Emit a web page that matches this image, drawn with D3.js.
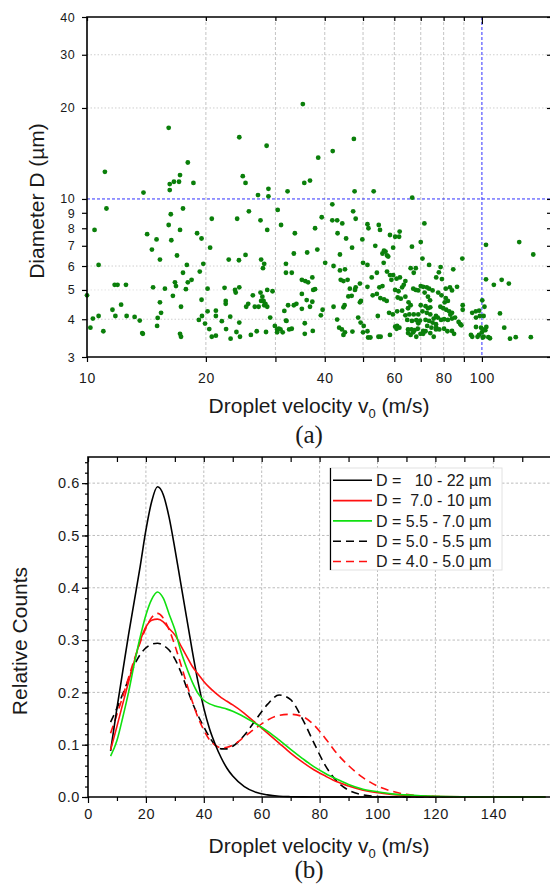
<!DOCTYPE html>
<html>
<head>
<meta charset="utf-8">
<script src="https://cdn.jsdelivr.net/npm/d3@7"></script>
<style>
  body { margin: 0; background: #fff; }
  svg { display: block; }
  text { font-family: "Liberation Sans", Arial, sans-serif; fill: #1a1a1a; }
</style>
</head>
<body>
<svg id="chart" width="550" height="886"></svg>
<script>

// === Panel (a): droplets [velocity m/s, diameter µm] ===
const droplets = [
  [11.1,12.3],[11.2,9.3],[13.9,10.5],[16.1,17.2],[16.2,11.2],[16.2,10.7],[16.6,11.4],[17.1,11.4],[17.2,12.0],[18.0,13.2],
  [18.6,11.3],[16.3,8.9],[17.5,9.3],[20.7,8.6],[24.3,16.0],[24.8,11.9],[25.2,11.3],[24.0,8.6],[25.7,9.1],[27.5,8.5],
  [27.1,10.3],[28.8,10.2],[28.8,10.8],[28.5,15.0],[30.4,9.2],[35.2,20.6],[38.5,13.7],[41.9,14.4],[47.4,15.8],[35.5,11.3],
  [36.7,11.5],[32.2,10.6],[47.6,10.6],[53.2,10.6],[66.6,10.1],[41.8,9.6],[47.2,9.1],[39.3,8.7],[41.8,8.5],[43.0,8.5],[47.9,8.6],
  [10.45,7.9],[10.7,6.05],[10.0,4.8],[10.35,4.02],[10.2,3.75],[10.7,4.1],[11.0,3.65],[11.6,4.3],[11.8,4.1],[11.75,5.2],
  [11.95,5.2],[12.55,5.2],[12.2,4.47],[12.6,4.1],[13.2,4.07],[13.6,3.96],[13.8,3.6],[13.85,3.58],
  [14.2,7.65],[15.0,7.35],[14.6,6.8],[15.3,6.3],[14.7,5.1],[15.75,5.05],[15.3,4.55],[15.4,4.2],[15.1,4.04],[15.05,3.8],
  [16.1,8.2],[17.2,7.9],[16.35,7.3],[16.9,6.5],[17.9,6.05],[17.5,5.7],[16.7,5.3],[16.8,5.15],[18.0,5.3],[18.4,5.4],
  [17.8,5.03],[16.5,4.78],[17.3,4.4],[17.2,3.58],[17.3,3.5],
  [19.0,7.7],[19.5,7.4],[20.5,6.9],[19.7,6.1],[19.3,5.75],[20.2,5.05],[19.5,4.64],[19.55,4.1],[19.2,3.98],[19.9,3.87],
  [20.2,4.25],[20.4,3.71],[20.7,3.5],[21.2,3.53],[21.2,4.27],[21.2,4.1],[21.95,3.94],[22.3,5.08],[22.45,4.6],[22.45,4.5],
  [22.5,3.71],[23.05,4.08],[23.1,3.45],[22.85,6.3],[24.25,6.27],[23.7,5.0],[23.8,4.9],[24.3,5.1],[24.3,3.9],[23.9,3.63],
  [24.4,3.5],[25.2,6.53],[28.6,7.9],[27.6,6.3],[28.1,6.1],[27.9,5.9],[26.3,4.8],[25.3,4.4],[25.6,4.5],[26.6,4.4],
  [27.2,4.4],[27.5,4.9],[27.8,4.75],[27.6,4.6],[28.0,4.6],[28.1,4.45],[28.3,4.5],[28.6,4.4],[28.6,5.0],[29.5,4.95],
  [29.1,4.05],[26.0,3.55],[26.9,3.65],[28.4,3.63],[29.9,3.8],[30.3,3.7],[30.6,3.72],[30.9,3.7],[30.3,3.62],[31.3,3.62],
  [31.0,8.2],[31.9,6.1],[31.9,5.7],[31.6,4.26],[31.9,3.96],
  [33.6,7.7],[37.8,8.0],[44.3,8.3],[51.3,8.25],[51.6,8.0],[54.8,8.2],[55.2,7.9],[58.5,7.6],[60.3,7.5],[61.7,7.5],
  [61.9,7.8],[71.5,8.3],[43.1,7.7],[45.3,7.4],[49.8,7.35],[53.7,7.0],[59.6,6.9],[66.5,6.95],[70.0,7.2],
  [33.4,6.6],[36.1,6.65],[38.3,6.8],[43.7,6.55],[46.9,6.9],[56.0,6.6],[57.0,6.7],[57.5,6.5],[56.5,6.75],[57.9,6.45],
  [70.7,6.35],[40.1,6.15],[42.1,6.0],[50.0,6.15],[51.3,6.05],[56.4,6.15],
  [33.0,5.7],[35.0,5.4],[35.7,5.35],[36.3,5.3],[37.2,5.5],[37.8,5.03],[37.4,5.0],[35.0,4.85],[36.0,4.63],[37.2,4.57],
  [36.7,4.4],[33.9,4.5],[33.4,4.45],[32.3,4.45],[35.0,4.33],[32.0,3.95],[32.5,3.7],[33.0,3.72],[35.6,3.88],[35.6,3.58],
  [37.3,3.66],[39.5,4.3],[39.1,4.12],[43.0,3.99],[43.5,3.75],[44.2,3.7],[45.0,3.62],[44.6,3.55],[47.0,3.64],[42.1,4.4],
  [44.6,4.38],[44.9,4.45],[43.7,5.8],[45.0,5.85],[45.7,5.4],[44.6,5.35],[43.9,5.4],[46.3,5.05],[46.8,4.78],[45.9,4.76],
  [47.7,5.0],[47.9,5.1],[49.1,5.25],[49.4,4.6],[49.1,4.55],[48.6,4.05],[49.3,3.9],[50.2,3.8],[51.3,3.65],[50.0,3.62],
  [51.5,3.48],[52.2,3.48],[51.3,5.12],[52.6,5.5],[54.2,5.7],[55.0,5.1],[56.0,5.15],[52.9,4.8],[54.2,4.85],[55.3,4.7],
  [56.5,4.65],[57.4,4.6],[54.5,4.1],[54.7,3.5],[55.4,3.5],[58.5,3.55],[58.2,4.2],[59.5,4.15],[61.0,4.25],[62.8,4.27],
  [64.0,4.12],[60.3,3.78],[61.0,3.8],[61.8,3.75],[60.8,3.72],[59.6,5.6],[60.8,5.45],[62.0,5.5],[64.0,5.35],[57.5,5.75],
  [58.5,5.6],[59.0,5.4],[60.3,5.0],[61.5,4.95],[62.8,5.1],[63.4,5.2],[61.2,4.72],[62.3,4.68],[64.0,4.75],
  [66.0,5.9],[67.2,5.7],[68.0,5.9],[67.0,5.05],[68.0,5.0],[69.0,4.98],[65.2,4.55],[66.0,4.45],[65.0,4.35],[65.5,4.15],
  [67.2,4.15],[69.0,4.15],[64.7,3.98],[66.5,3.95],[68.2,3.97],[69.7,3.96],[69.0,3.88],[65.0,3.7],[66.3,3.7],[67.5,3.68],
  [68.8,3.72],[67.0,3.62],[65.0,3.6],[66.0,3.55],[68.2,3.5],[69.9,3.58],[71.0,3.66],
  [70.0,5.15],[71.0,5.12],[72.5,5.1],[73.5,5.05],[75.0,4.98],[71.6,4.9],[73.0,4.75],[73.9,4.62],[70.0,4.45],[72.0,4.42],
  [74.0,4.38],[73.0,4.35],[70.7,4.25],[72.5,4.2],[74.0,4.15],[75.5,4.02],[76.5,4.1],[72.0,3.98],[73.5,3.95],[75.0,3.9],
  [76.5,3.85],[72.7,3.8],[74.5,3.75],[76.5,3.7],[72.0,3.65],[74.0,3.6],[71.0,3.58],[75.5,3.5],
  [73.5,6.05],[78.6,5.95],[77.8,5.72],[76.6,5.5],[79.2,5.43],[84.6,5.85],[77.5,4.9],[79.0,4.8],[81.0,4.7],[82.0,4.6],
  [80.5,4.55],[78.5,4.4],[79.8,4.35],[81.2,4.3],[82.6,4.25],[84.0,4.2],[83.2,4.14],[77.3,4.05],[78.8,3.98],[80.2,4.0],
  [82.0,3.98],[84.0,4.02],[85.5,4.05],[87.3,3.92],[88.2,3.85],[76.6,3.76],[78.0,3.7],[80.2,3.72],[81.8,3.65],[84.0,3.66],
  [85.0,3.58],[88.7,3.82],[81.0,5.05],[83.0,5.1],[84.0,4.98],[86.5,5.12],[89.2,6.35],[89.4,4.45],[89.4,4.3],[94.5,4.2],
  [96.5,4.25],[98.4,4.27],[96.6,4.05],[98.8,4.1],[93.8,3.55],[94.5,3.5],[97.5,3.5],[98.3,3.55],[100.0,3.62],[101.0,3.5],
  [96.6,3.77],
  [102.4,7.05],[124.3,7.2],[134.9,6.55],[102.4,5.42],[107.2,5.2],[112.2,5.4],[117.0,5.25],[111.1,4.18],[113.9,3.75],
  [117.8,3.45],[121.8,3.49],[133.0,3.49],[100.2,4.62],[101.5,4.4],[101.0,4.1],[99.5,3.75],[100.5,3.7],[102.0,3.68],
  [102.6,3.77],[100.5,3.48],[103.8,3.49],[104.8,3.46]
];

const velTicksA = [10, 20, 30, 40, 50, 60, 70, 80, 90, 100];
const velLabelsA = [10, 20, 40, 60, 80, 100];
const diaTicksA = [3, 4, 5, 6, 7, 8, 9, 10, 20, 30, 40];

// === Panel (b): relative counts on a common velocity grid ===
const vGrid = [7.8,10,12,14,16,18,20,22,24,26,28,30,32,34,36,38,40,42,44,46,48,50,54,58,62,66,70,74,78,82,86,90,95,100,105,110,115,120,130,140,150,158];

const countsD10to22 = [0.088,0.17,0.24,0.31,0.375,0.44,0.51,0.565,0.593,0.578,0.535,0.475,0.41,0.345,0.28,0.22,0.17,
  0.13,0.10,0.075,0.055,0.04,0.02,0.009,0.004,0.0015,0.0006,0.0002,0,0,0,0,0,0,0,0,0,0,0,0,0,0];
const countsD7to10 = [0.09,0.135,0.178,0.22,0.26,0.298,0.325,0.338,0.34,0.335,0.322,0.31,0.29,0.27,0.25,0.235,0.221,
  0.209,0.199,0.19,0.183,0.176,0.16,0.141,0.122,0.103,0.084,0.067,0.052,0.04,0.029,0.021,0.013,0.008,0.005,0.003,0.0015,0.001,0.0003,0,0,0];
const countsD55to7 = [0.078,0.108,0.152,0.2,0.255,0.305,0.348,0.378,0.392,0.38,0.35,0.32,0.28,0.248,0.22,0.198,0.185,
  0.178,0.174,0.171,0.168,0.164,0.153,0.14,0.126,0.109,0.091,0.074,0.058,0.045,0.034,0.024,0.015,0.01,0.006,0.004,0.0025,0.0015,0.0005,0,0,0];
const countsD5to55 = [0.143,0.17,0.197,0.225,0.252,0.272,0.285,0.292,0.294,0.29,0.281,0.264,0.24,0.21,0.181,0.156,0.134,
  0.114,0.099,0.092,0.092,0.097,0.118,0.148,0.177,0.195,0.186,0.15,0.104,0.06,0.03,0.013,0.004,0.001,0,0,0,0,0,0,0,0];
const countsD4to5 = [0.122,0.158,0.192,0.228,0.263,0.295,0.323,0.343,0.351,0.342,0.32,0.29,0.255,0.218,0.183,0.152,0.128,
  0.109,0.099,0.094,0.095,0.099,0.115,0.132,0.147,0.156,0.158,0.154,0.138,0.112,0.083,0.06,0.037,0.021,0.011,0.005,0.002,0.001,0,0,0,0];

const legendLabels = ["D =   10 - 22 µm", "D =  7.0 - 10 µm", "D = 5.5 - 7.0 µm", "D = 5.0 - 5.5 µm", "D = 4.0 - 5.0 µm"];

const series = [
  { label: legendLabels[0], values: countsD10to22, color: "#000000", dash: null },
  { label: legendLabels[1], values: countsD7to10,  color: "#ff1010", dash: null },
  { label: legendLabels[2], values: countsD55to7,  color: "#10e010", dash: null },
  { label: legendLabels[3], values: countsD5to55,  color: "#000000", dash: "8,5" },
  { label: legendLabels[4], values: countsD4to5,   color: "#ff1010", dash: "8,5" }
];

const svg = d3.select("#chart");

// helper: style tick texts
function styleTicks(g, size, spacing = 0.6) {
  g.select(".domain").remove();
  g.selectAll("line").attr("stroke", "#000").attr("stroke-width", 1.2);
  g.selectAll("text").attr("fill", "#1a1a1a").style("font-size", size + "px")
    .style("font-family", '"Liberation Sans", Arial, sans-serif').style("letter-spacing", spacing + "px");
}

function xTitle(y) {
  const t = svg.append("text").attr("x", 319).attr("y", y).attr("text-anchor", "middle").style("font-size", "21px");
  t.append("tspan").text("Droplet velocity v");
  t.append("tspan").attr("dy", 5).style("font-size", "13px").text("0");
  t.append("tspan").attr("dy", -5).text(" (m/s)");
}

// ================= PANEL (a) =================
const A = { left: 87, right: 551, top: 17, bottom: 357 };
const xA = d3.scaleLog().domain([10, 149.6]).range([A.left, A.right]);
const yA = d3.scaleLog().domain([3, 40]).range([A.bottom, A.top]);

const gridA = svg.append("g");
gridA.selectAll("line.v").data([20, 30, 40, 50, 60, 70, 80, 90]).enter().append("line")
  .attr("x1", d => xA(d)).attr("x2", d => xA(d)).attr("y1", A.top).attr("y2", A.bottom)
  .attr("stroke", "#c4c4c4").attr("stroke-dasharray", "3,2");
gridA.selectAll("line.h").data([4, 5, 6, 20, 30]).enter().append("line")
  .attr("x1", A.left).attr("x2", A.right).attr("y1", d => yA(d)).attr("y2", d => yA(d))
  .attr("stroke", d => d === 5 ? "#e4e4e4" : "#cfcfcf").attr("stroke-dasharray", "1.5,2");

// blue reference lines
svg.append("line").attr("x1", A.left).attr("x2", A.right).attr("y1", yA(10)).attr("y2", yA(10))
  .attr("stroke", "#3030ff").attr("stroke-dasharray", "3,2");
svg.append("line").attr("x1", xA(100)).attr("x2", xA(100)).attr("y1", A.top).attr("y2", A.bottom)
  .attr("stroke", "#3030ff").attr("stroke-dasharray", "3,2");

svg.append("g").selectAll("circle").data(droplets).enter().append("circle")
  .attr("cx", d => xA(d[0])).attr("cy", d => yA(d[1])).attr("r", 2.4).attr("fill", "#0a7f0a");

// axes
svg.append("g").attr("transform", `translate(0,${A.bottom})`)
  .call(d3.axisBottom(xA).tickValues(velTicksA).tickSize(5).tickPadding(11)
    .tickFormat(d => velLabelsA.includes(d) ? d : ""))
  .call(g => styleTicks(g, 14));
svg.append("g").attr("transform", `translate(0,${A.top})`)
  .call(d3.axisBottom(xA).tickValues(velTicksA).tickSize(4).tickFormat(""))
  .call(g => styleTicks(g, 14))
  .selectAll(".tick line").attr("y2", d => d === 100 ? 7 : 4);
svg.append("g").attr("transform", `translate(${A.left},0)`)
  .call(d3.axisLeft(yA).tickValues(diaTicksA).tickSize(5).tickPadding(7).tickFormat(d3.format("d")))
  .call(g => styleTicks(g, 12.5, 0.4))
  .selectAll(".tick text").attr("dy", d => d === 10 ? "0.25em" : d === 9 ? "0.4em" : "0.32em");
svg.append("g").attr("transform", `translate(${A.right},0)`)
  .call(d3.axisLeft(yA).tickValues(diaTicksA).tickSize(4).tickFormat(""))
  .call(g => styleTicks(g, 14));

svg.append("path")
  .attr("d", `M${A.right},${A.top}H${A.left}V${A.bottom}H${A.right}`)
  .attr("fill", "none").attr("stroke", "#000").attr("stroke-width", 1.6);

xTitle(413);
svg.append("text").attr("transform", "translate(44,201) rotate(-90)").attr("text-anchor", "middle")
  .style("font-size", "21px").text("Diameter D (µm)");
svg.append("text").attr("x", 309).attr("y", 443).attr("text-anchor", "middle")
  .style("font-family", '"Liberation Serif", "Times New Roman", serif').style("font-size", "25px").text("(a)");

// ================= PANEL (b) =================
const B = { left: 88, right: 551.2, top: 457, bottom: 797 };
const xB = d3.scaleLinear().domain([0, 160]).range([B.left, B.right]);
const yB = d3.scaleLinear().domain([0, 0.65]).range([B.bottom, B.top]);

const gridB = svg.append("g");
gridB.selectAll("line.v").data([20, 40, 60, 80, 100, 120, 140]).enter().append("line")
  .attr("x1", d => xB(d)).attr("x2", d => xB(d)).attr("y1", B.top).attr("y2", B.bottom)
  .attr("stroke", "#bdbdbd").attr("stroke-dasharray", "2.5,2");
gridB.selectAll("line.h").data([0.1, 0.2, 0.3, 0.4, 0.5, 0.6]).enter().append("line")
  .attr("x1", B.left).attr("x2", B.right).attr("y1", d => yB(d)).attr("y2", d => yB(d))
  .attr("stroke", "#bdbdbd").attr("stroke-dasharray", "2.5,2");

const line = d3.line().x((d, i) => xB(vGrid[i])).y(d => yB(d)).curve(d3.curveMonotoneX);
const drawOrder = [3, 4, 0, 1, 2];
drawOrder.forEach(k => {
  const s = series[k];
  svg.append("path").datum(s.values).attr("d", line)
    .attr("fill", "none").attr("stroke", s.color).attr("stroke-width", 1.6)
    .attr("stroke-dasharray", s.dash);
});

// axes
svg.append("g").attr("transform", `translate(0,${B.bottom})`)
  .call(d3.axisBottom(xB).tickValues(d3.range(10, 160, 20)).tickSize(4).tickFormat(""))
  .call(g => styleTicks(g, 14.5));
svg.append("g").attr("transform", `translate(0,${B.bottom})`)
  .call(d3.axisBottom(xB).tickValues(d3.range(0, 161, 20)).tickSize(6).tickPadding(6)
    .tickFormat(d => d <= 140 ? d : ""))
  .call(g => styleTicks(g, 14.5));
svg.append("g").attr("transform", `translate(0,${B.top})`)
  .call(d3.axisBottom(xB).tickValues(d3.range(0, 161, 10)).tickSize(5).tickFormat(""))
  .call(g => styleTicks(g, 14));
svg.append("g").attr("transform", `translate(${B.left},0)`)
  .call(d3.axisLeft(yB).tickValues(d3.range(0, 0.65, 0.02)).tickSize(3).tickFormat(""))
  .call(g => styleTicks(g, 14));
svg.append("g").attr("transform", `translate(${B.left},0)`)
  .call(d3.axisLeft(yB).tickValues([0, 0.1, 0.2, 0.3, 0.4, 0.5, 0.6]).tickSize(6).tickPadding(2)
    .tickFormat(d3.format(".1f")))
  .call(g => styleTicks(g, 14.5));

svg.append("path")
  .attr("d", `M${B.right},${B.top}H${B.left}V${B.bottom}H${B.right}`)
  .attr("fill", "none").attr("stroke", "#000").attr("stroke-width", 1.6);

// legend
const leg = svg.append("g").attr("transform", "translate(330,468)");
leg.append("rect").attr("width", 172).attr("height", 102).attr("fill", "#fff").attr("stroke", "#e2e2e2");
leg.append("line").attr("x1", 0.5).attr("x2", 0.5).attr("y1", 0).attr("y2", 102).attr("stroke", "#000").attr("stroke-width", 1.2);
series.forEach((s, i) => {
  const y = 12.3 + i * 20.3;
  leg.append("line").attr("x1", 3).attr("x2", 42).attr("y1", y).attr("y2", y)
    .attr("stroke", s.color).attr("stroke-width", 1.6).attr("stroke-dasharray", s.dash);
  leg.append("text").attr("x", 46).attr("y", y).attr("dy", "0.36em")
    .style("font-size", "16px").style("white-space", "pre").text(s.label);
});

xTitle(853);
svg.append("text").attr("transform", "translate(27,641) rotate(-90)").attr("text-anchor", "middle")
  .style("font-size", "21px").text("Relative Counts");
svg.append("text").attr("x", 309).attr("y", 878).attr("text-anchor", "middle")
  .style("font-family", '"Liberation Serif", "Times New Roman", serif').style("font-size", "25px").text("(b)");

</script>
</body>
</html>
